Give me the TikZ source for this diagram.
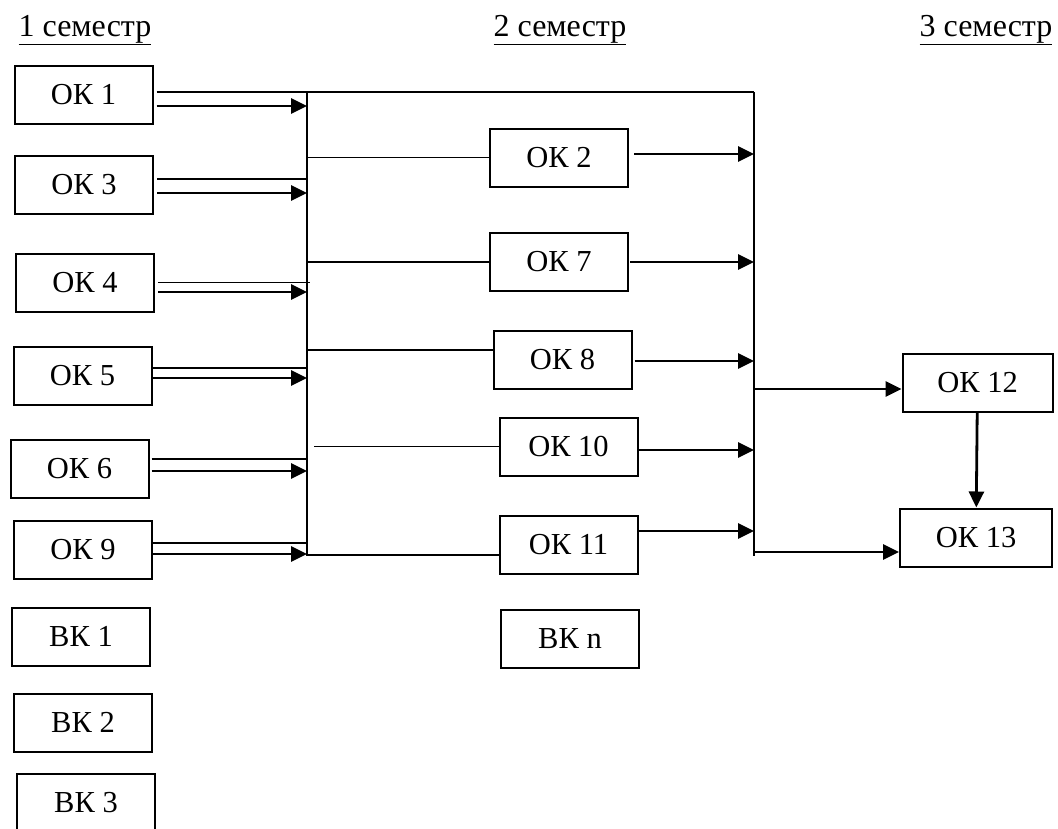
\documentclass[tikz,border=0pt]{standalone}
\usepackage{fontspec}
\setmainfont{Liberation Serif}
\usetikzlibrary{arrows.meta}
\begin{document}
\begin{tikzpicture}[x=1pt,y=-1pt]
    \tikzstyle{course}=[rectangle,draw=black,line width=2pt,minimum width=138pt,minimum height=58pt,inner sep=0pt,font=\fontsize{30.5}{33}\selectfont]
    \tikzstyle{term}=[anchor=base,inner sep=0pt,font=\fontsize{32}{34}\selectfont]
    \tikzstyle{wire}=[draw, line width=1.6pt]
    \tikzstyle{edge}=[draw, line width=2.8pt, -{Triangle[length=16pt,width=15pt]}]
    \useasboundingbox (0,0) rectangle (1058,828);
    % semesters
    \node [term] (t1) at (85,36) {\underline{1 семестр}};
    \node [term] (t2) at (560,36) {\underline{2 семестр}};
    \node [term] (t3) at (986,36) {\underline{3 семестр}};
    % first semester
    \node [course] (ok1) at (83.5,94.5) {ОК 1};
    \node [course] (ok3) at (84,185) {ОК 3};
    \node [course] (ok4) at (85,282.5) {ОК 4};
    \node [course] (ok5) at (82.5,375.5) {ОК 5};
    \node [course] (ok6) at (79.5,468.5) {ОК 6};
    \node [course] (ok9) at (83,550) {ОК 9};
    \node [course] (vk1) at (81,636.5) {ВК 1};
    \node [course] (vk2) at (83,722.5) {ВК 2};
    \node [course] (vk3) at (86,802.5) {ВК 3};
    % second semester
    \node [course] (ok2) at (559,157.5) {ОК 2};
    \node [course] (ok7) at (559,262) {ОК 7};
    \node [course] (ok8) at (562.5,360) {ОК 8};
    \node [course] (ok10) at (568.5,446.5) {ОК 10};
    \node [course] (ok11) at (568.5,545) {ОК 11};
    \node [course] (vkn) at (570,638.5) {ВК n};
    % third semester
    \node [course,minimum width=150pt] (ok12) at (977.5,382.5) {ОК 12};
    \node [course,minimum width=152pt] (ok13) at (976,537.5) {ОК 13};
    % buses
    \coordinate (busLt) at (307,92);
    \coordinate (busLb) at (307,556);
    \coordinate (busRt) at (754,92);
    \coordinate (busRb) at (754,556);
    \path[wire] (busLt) -- (busLb);
    \path[wire] (busRt) -- (busRb);
    % into the left bus
    \path[wire] ([xshift=3pt]ok1.east |- busRt) -- (busRt);
    \path[edge] ([xshift=3pt,yshift=-11.5pt]ok1.east) -- ([yshift=-11.5pt]ok1.east -| busLt);
    \path[wire] ([xshift=3pt,yshift=6pt]ok3.east) -- ([yshift=6pt]ok3.east -| busLt);
    \path[edge] ([xshift=3pt,yshift=-8pt]ok3.east) -- ([yshift=-8pt]ok3.east -| busLt);
    \path[wire] ([xshift=3pt]ok4.east) -- ([xshift=3pt]ok4.east -| busLt);
    \path[edge] ([xshift=3pt,yshift=-9.5pt]ok4.east) -- ([yshift=-9.5pt]ok4.east -| busLt);
    \path[wire] ([yshift=7.5pt]ok5.east) -- ([yshift=7.5pt]ok5.east -| busLt);
    \path[edge] ([yshift=-2.5pt]ok5.east) -- ([yshift=-2.5pt]ok5.east -| busLt);
    \path[wire] ([xshift=2pt,yshift=9.5pt]ok6.east) -- ([yshift=9.5pt]ok6.east -| busLt);
    \path[edge] ([xshift=2pt,yshift=-2.5pt]ok6.east) -- ([yshift=-2.5pt]ok6.east -| busLt);
    \path[wire] ([yshift=7pt]ok9.east) -- ([yshift=7pt]ok9.east -| busLt);
    \path[edge] ([yshift=-4pt]ok9.east) -- ([yshift=-4pt]ok9.east -| busLt);
    % from the left bus
    \path[wire] (busLt |- ok2.west) -- (ok2.west);
    \path[wire] (busLt |- ok7.west) -- (ok7.west);
    \path[wire] ([yshift=10pt]busLt |- ok8.west) -- ([yshift=10pt]ok8.west);
    \path[wire] ([xshift=7pt]busLt |- ok10.west) -- (ok10.west);
    \path[wire] ([yshift=-10pt]busLt |- ok11.west) -- ([yshift=-10pt]ok11.west);
    % into the right bus
    \path[edge] ([xshift=5pt,yshift=3.5pt]ok2.east) -- ([yshift=3.5pt]ok2.east -| busRt);
    \path[edge] ([xshift=1pt]ok7.east) -- (ok7.east -| busRt);
    \path[edge] ([xshift=2pt,yshift=-1pt]ok8.east) -- ([yshift=-1pt]ok8.east -| busRt);
    \path[edge] ([yshift=-3.5pt]ok10.east) -- ([yshift=-3.5pt]ok10.east -| busRt);
    \path[edge] ([yshift=14pt]ok11.east) -- ([yshift=14pt]ok11.east -| busRt);
    % third semester
    \path[edge] ([yshift=-6.5pt]busRt |- ok12.west) -- ([yshift=-6.5pt]ok12.west);
    \path[edge] ([yshift=-14.5pt]busRt |- ok13.west) -- ([yshift=-14.5pt]ok13.west);
    \path[edge] (ok12) -- (ok13);
\end{tikzpicture}
\end{document}
